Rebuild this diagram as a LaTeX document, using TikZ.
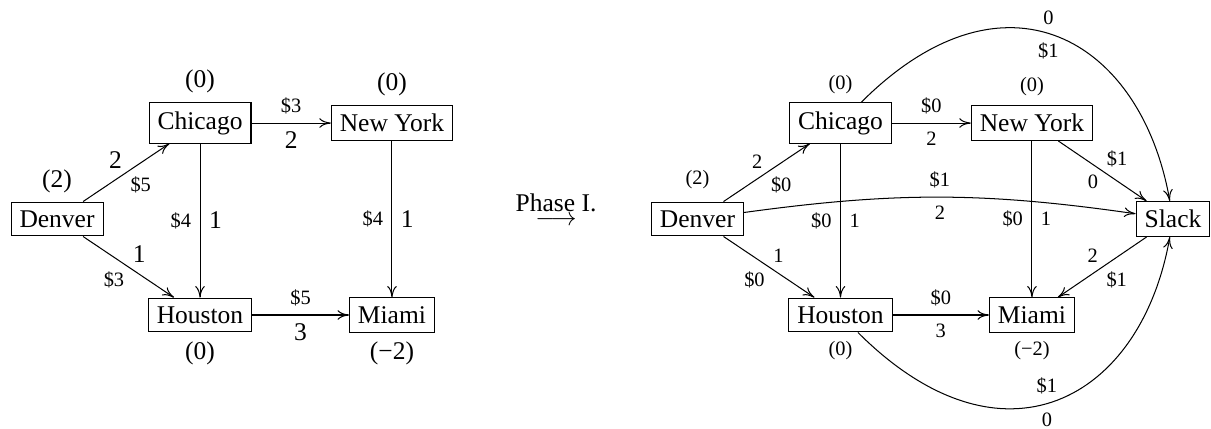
\documentclass[tikz,border=0pt]{standalone}
\usepackage{fontspec}
\setmainfont{Liberation Serif}
\usetikzlibrary{arrows.meta}
\begin{document}
\begin{tikzpicture}[>={To[length=4.5pt, width=3.8pt]},
		city/.style={draw, inner sep=3.33pt},
		cost/.style={font=\footnotesize}]
	% Left: the transportation network with supplies in brackets, costs as \$ and flows as plain
	% numbers. Right: the Phase I network, where every city also feeds the extra Slack node at cost \$1
	% and the original edges cost \$0.
	\useasboundingbox (-0.786,-2.881) rectangle (15.906,3.019);
	\node[city, label={above:(2)}] (den) at (0,0) {Denver};
	\node[city, label={above:(0)}] (chi) at (1.971,1.323) {Chicago};
	\node[city, label={below:(0)}] (hou) at (1.971,-1.323) {Houston};
	\node[city, label={above:(0)}] (ny) at (4.617,1.323) {New York};
	\node[city, label={below:(−2)}] (mia) at (4.617,-1.323) {Miami};
	\draw[->] (den) -- node[above left, inner sep=1.5pt] {2} node[below right, cost, inner sep=1.5pt] {\$5} (chi);
	\draw[->] (den) -- node[above right, inner sep=1.5pt] {1} node[below left, cost, inner sep=1.5pt] {\$3} (hou);
	\draw[->] (chi) -- node[above, cost] {\$3} node[below] {2} (ny);
	\draw[->] (chi) -- node[left, cost] {\$4} node[right] {1} (hou);
	\draw[->] (ny) -- node[left, cost] {\$4} node[right] {1} (mia);
	\draw[->] (hou) -- node[above, cost] {\$5} node[below] {3} (mia);
	% the step between the two networks
	\node[anchor=base] (phase) at (6.878,-0.096) {$\stackrel{\mbox{Phase I.}}{\longrightarrow}$};
	\node[city, label={[cost, label distance=1.5pt]above:(2)}] (den2) at (8.828,0) {Denver};
	\node[city, label={[cost]above:(0)}] (chi2) at (10.799,1.323) {Chicago};
	\node[city, label={[cost]below:(0)}] (hou2) at (10.799,-1.323) {Houston};
	\node[city, label={[cost]above:(0)}] (ny2) at (13.438,1.323) {New York};
	\node[city, label={[cost]below:(−2)}] (mia2) at (13.438,-1.323) {Miami};
	\node[city] (slack) at (15.382,0) {Slack};
	\draw[->] (den2) -- node[above left, cost, inner sep=1.5pt] {2} node[below right, cost, inner sep=1.5pt] {\$0} (chi2);
	\draw[->] (den2) -- node[above right, cost, inner sep=1.5pt] {1} node[below left, cost, inner sep=1.5pt] {\$0} (hou2);
	\draw[->] (chi2) -- node[above, cost] {\$0} node[below, cost] {2} (ny2);
	\draw[->] (chi2) -- node[left, cost] {\$0} node[right, cost] {1} (hou2);
	\draw[->] (ny2) -- node[left, cost] {\$0} node[right, cost] {1} (mia2);
	\draw[->] (hou2) -- node[above, cost] {\$0} node[below, cost] {3} (mia2);
	% edges into and out of the slack node
	\draw[->] (den2) to[bend left=8] node[above, cost] {\$1} node[below, cost] {2} (slack);
	\draw[->] (ny2) -- node[above right, cost, inner sep=1.5pt] {\$1} node[below left, cost, inner sep=1.5pt] {0} (slack);
	\draw[->] (slack) -- node[above left, cost, inner sep=1.5pt] {2} node[below right, cost, inner sep=1.5pt] {\$1} (mia2);
	\draw[->] (chi2) to[out=45, in=100, out looseness=1.6, in looseness=1.3] node[pos=.47, above, cost] {0} node[pos=.47, below, cost] {\$1} (slack);
	\draw[->] (hou2) to[out=-45, in=-100, out looseness=1.6, in looseness=1.3] node[pos=.47, above, cost] {\$1} node[pos=.47, below, cost] {0} (slack);
\end{tikzpicture}
\end{document}
